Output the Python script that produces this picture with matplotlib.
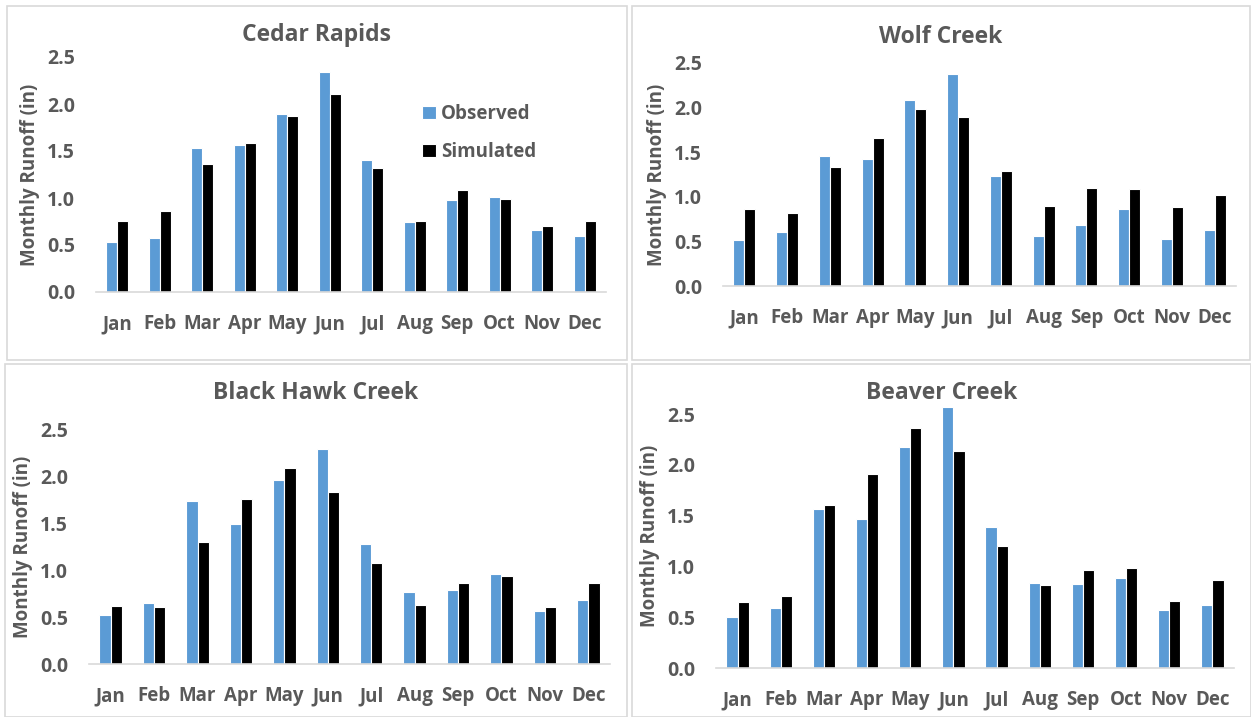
import numpy as np
import matplotlib.pyplot as plt
from matplotlib.patches import Rectangle

months = ["Jan", "Feb", "Mar", "Apr", "May", "Jun", "Jul", "Aug", "Sep", "Oct", "Nov", "Dec"]

cedar_obs = [0.53, 0.57, 1.53, 1.56, 1.89, 2.34, 1.40, 0.74, 0.98, 1.01, 0.66, 0.60]
cedar_sim = [0.76, 0.86, 1.36, 1.58, 1.87, 2.11, 1.32, 0.76, 1.08, 0.99, 0.70, 0.75]

wolf_obs = [0.52, 0.61, 1.46, 1.42, 2.08, 2.38, 1.23, 0.56, 0.68, 0.86, 0.53, 0.63]
wolf_sim = [0.86, 0.82, 1.33, 1.66, 1.98, 1.90, 1.29, 0.90, 1.10, 1.09, 0.89, 1.02]

hawk_obs = [0.52, 0.65, 1.74, 1.50, 1.97, 2.30, 1.28, 0.77, 0.79, 0.96, 0.57, 0.68]
hawk_sim = [0.62, 0.61, 1.30, 1.76, 2.09, 1.84, 1.08, 0.63, 0.87, 0.94, 0.61, 0.87]

beaver_obs = [0.50, 0.59, 1.57, 1.47, 2.18, 2.57, 1.39, 0.84, 0.83, 0.89, 0.57, 0.62]
beaver_sim = [0.65, 0.71, 1.61, 1.91, 2.36, 2.14, 1.20, 0.82, 0.97, 0.98, 0.66, 0.87]

yticks = [0.0, 0.5, 1.0, 1.5, 2.0, 2.5]

plt.rcParams['font.family'] = ['Open Sans', 'DejaVu Sans']
GREY = "#595959"
BLUE = "#5B9BD5"

W, H = 1251, 717
fig = plt.figure(figsize=(W / 100, H / 100), dpi=100)


def px(x0, y0, x1, y1):
    # pixel box (top-left origin) -> figure fraction rect
    return [x0 / W, 1 - y1 / H, (x1 - x0) / W, (y1 - y0) / H]


def panel(box, plot, title, title_y, obs, sim, ymax=2.5, legend=False):
    r = px(*box)
    fig.add_artist(Rectangle((r[0], r[1]), r[2], r[3], transform=fig.transFigure,
                             fill=False, edgecolor="#D9D9D9", lw=1.2))
    ax = fig.add_axes(px(*plot))
    x = np.arange(len(months))
    w = 0.26
    ax.bar(x - w / 2, obs, w, color=BLUE, edgecolor="white", lw=0.8, label="Observed")
    ax.bar(x + w / 2, sim, w, color="black", edgecolor="white", lw=0.8, label="Simulated")
    ax.set_xlim(-0.5, 11.5)
    ax.set_ylim(0, ymax)
    ax.set_yticks(yticks)
    ax.set_yticklabels([f"{t:.1f}" for t in yticks], fontweight="bold", fontsize=14)
    ax.set_xticks(x)
    ax.set_xticklabels(months, fontweight="bold", fontsize=13.5)
    ax.tick_params(length=0, labelcolor=GREY)
    ax.tick_params(axis="x", pad=16)
    ax.tick_params(axis="y", pad=15)
    for s in ["top", "right", "left"]:
        ax.spines[s].set_visible(False)
    ax.spines["bottom"].set_color("#D9D9D9")
    ax.spines["bottom"].set_linewidth(1.2)
    ax.set_ylabel("Monthly Runoff (in)", fontsize=13.5, color=GREY, labelpad=5,
                  fontweight="bold")
    cx = (box[0] + box[2]) / 2
    fig.text(cx / W, 1 - title_y / H, title, ha="center", va="center",
             fontsize=16.5, color=GREY, fontweight="bold")
    if legend:
        leg = ax.legend(loc="upper left", bbox_to_anchor=(0.64, 0.80), frameon=False,
                        borderaxespad=0, borderpad=0,
                        prop={"size": 13.5, "weight": "bold"}, labelspacing=0.95,
                        handlelength=0.7, handleheight=0.7, handletextpad=0.3)
        for t in leg.get_texts():
            t.set_color(GREY)
    return ax


panel((7, 6, 627, 360), (96, 57, 606, 292), "Cedar Rapids", 35,
      cedar_obs, cedar_sim, legend=True)
panel((632, 6, 1250, 360), (723, 63, 1236, 286), "Wolf Creek", 37,
      wolf_obs, wolf_sim)
panel((5, 364, 627, 717), (89, 430, 610, 664), "Black Hawk Creek", 393,
      hawk_obs, hawk_sim)
panel((632, 364, 1251, 717), (716, 404, 1234, 668), "Beaver Creek", 393,
      beaver_obs, beaver_sim, ymax=2.6)

fig.savefig("out.png", dpi=100)
